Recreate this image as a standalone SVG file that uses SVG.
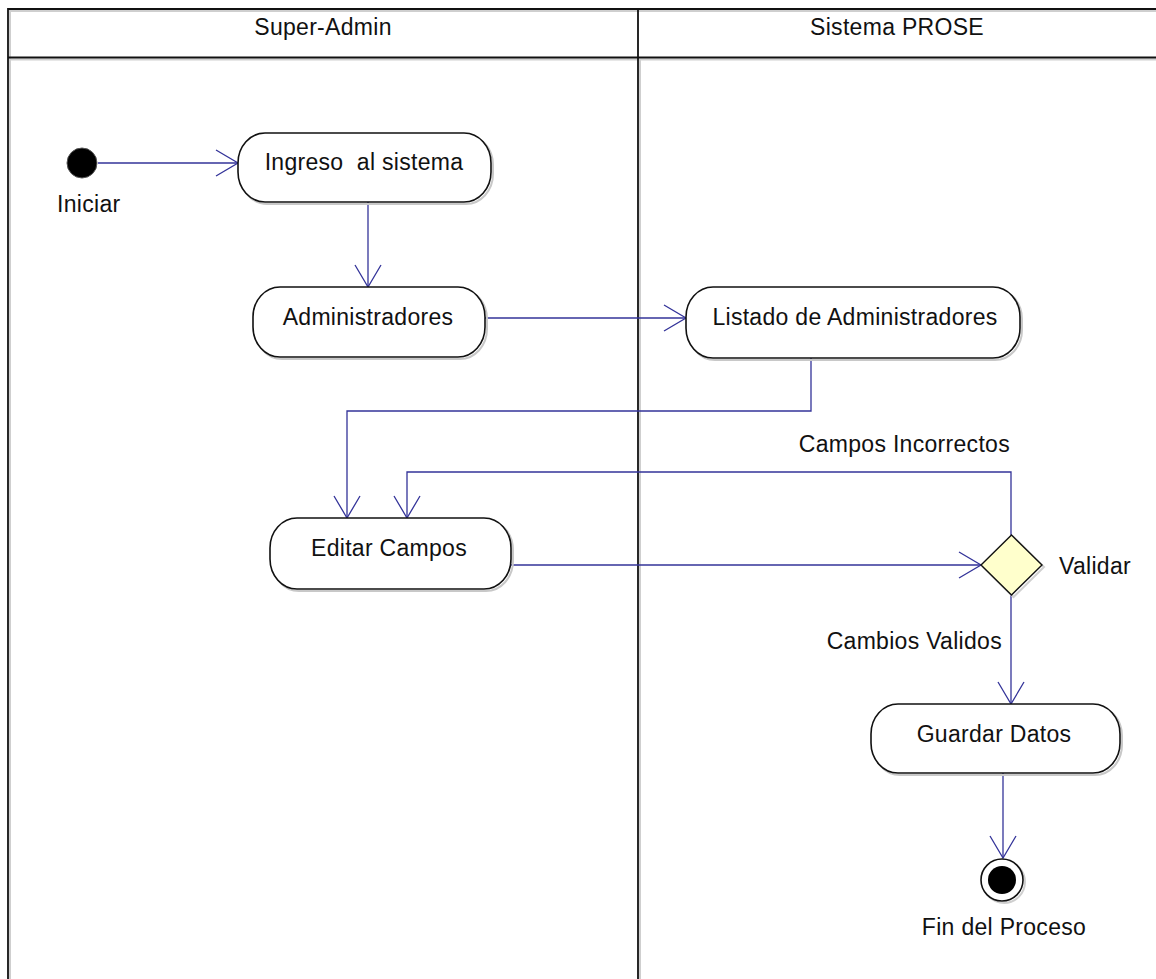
<svg xmlns="http://www.w3.org/2000/svg" width="1156" height="979" viewBox="0 0 1156 979">
<style>
  text { font-family: "Liberation Sans", Arial, sans-serif; font-size: 23px; fill: #111; letter-spacing: 0.3px; }
  .c { text-anchor: middle; }
  .e { text-anchor: end; }
  .act { fill: #fff; stroke: #111; stroke-width: 1.6; }
  .sh { fill: none; stroke: #c8c8c8; stroke-width: 2; }
  .frame { stroke: #111; stroke-width: 1.8; fill: none; }
  .frsh { stroke: #cfcfcf; stroke-width: 2; fill: none; }
  .con { fill: none; stroke: #333399; stroke-width: 1.3; }
</style>
<defs>
  <marker id="arr" viewBox="-24 -15 27 30" refX="0" refY="0" markerWidth="27" markerHeight="30" markerUnits="userSpaceOnUse" orient="auto">
    <path d="M-22,-13 L0,0 L-22,13" fill="none" stroke="#333399" stroke-width="1.3"/>
  </marker>
</defs>
<rect width="1156" height="979" fill="#fff"/>

<g id="swimlanes">
  <path class="frsh" d="M10,1156 L10,11 L1156,11 M10,59.5 L1156,59.5 M640,59 L640,979"/>
  <path class="frame" d="M8,979 L8,9 L1156,9 M8,57.5 L1156,57.5 M638,9 L638,979"/>
  <text class="c" x="323" y="35">Super-Admin</text>
  <text class="c" x="897" y="35">Sistema PROSE</text>
</g>

<g id="connectors">
  <path class="con" d="M98,163 L238,163" marker-end="url(#arr)"/>
  <path class="con" d="M368,202 L368,287" marker-end="url(#arr)"/>
  <path class="con" d="M485,318 L686,318" marker-end="url(#arr)"/>
  <path class="con" d="M811,358 L811,411 L347,411 L347,518" marker-end="url(#arr)"/>
  <path class="con" d="M1011,535 L1011,472 L407,472 L407,518" marker-end="url(#arr)"/>
  <path class="con" d="M511,565 L981,565" marker-end="url(#arr)"/>
  <path class="con" d="M1011,595 L1011,704" marker-end="url(#arr)"/>
  <path class="con" d="M1003,773 L1003,858" marker-end="url(#arr)"/>
  <text class="e" x="1010" y="452">Campos Incorrectos</text>
  <text class="e" x="1002" y="649">Cambios Validos</text>
</g>

<g id="initial">
  <circle cx="82" cy="163" r="15" fill="#000" stroke="#555" stroke-width="1"/>
  <text x="57" y="212">Iniciar</text>
</g>

<g id="ingreso">
  <rect class="sh" x="240" y="135" width="253" height="69" rx="27" ry="30"/>
  <rect class="act" x="238" y="133" width="253" height="69" rx="27" ry="30"/>
  <text class="c" x="364" y="170" xml:space="preserve">Ingreso  al sistema</text>
</g>

<g id="administradores">
  <rect class="sh" x="255" y="289" width="232" height="70" rx="27" ry="30"/>
  <rect class="act" x="253" y="287" width="232" height="70" rx="27" ry="30"/>
  <text class="c" x="368" y="325">Administradores</text>
</g>

<g id="listado">
  <rect class="sh" x="688" y="289" width="334" height="71" rx="27" ry="30"/>
  <rect class="act" x="686" y="287" width="334" height="71" rx="27" ry="30"/>
  <text class="c" x="855" y="325">Listado de Administradores</text>
</g>

<g id="editar">
  <rect class="sh" x="272" y="520" width="241" height="71" rx="27" ry="30"/>
  <rect class="act" x="270" y="518" width="241" height="71" rx="27" ry="30"/>
  <text class="c" x="389" y="556">Editar Campos</text>
</g>

<g id="validar">
  <path d="M1013.5,537 L1044,567 L1013.5,597 L983,567 Z" fill="none" stroke="#d0d0d0" stroke-width="2"/>
  <path d="M1011.5,535 L1042,565 L1011.5,595 L981,565 Z" fill="#ffffcc" stroke="#111" stroke-width="1.4"/>
  <text x="1059" y="574">Validar</text>
</g>

<g id="guardar">
  <rect class="sh" x="873" y="706" width="249" height="69" rx="27" ry="30"/>
  <rect class="act" x="871" y="704" width="249" height="69" rx="27" ry="30"/>
  <text class="c" x="994" y="742">Guardar Datos</text>
</g>

<g id="final">
  <circle cx="1004" cy="882" r="21" fill="none" stroke="#cfcfcf" stroke-width="2"/>
  <circle cx="1002" cy="880" r="21" fill="#fff" stroke="#111" stroke-width="1.6"/>
  <circle cx="1002" cy="880" r="14" fill="#000"/>
  <text class="c" x="1004" y="935">Fin del Proceso</text>
</g>
</svg>
